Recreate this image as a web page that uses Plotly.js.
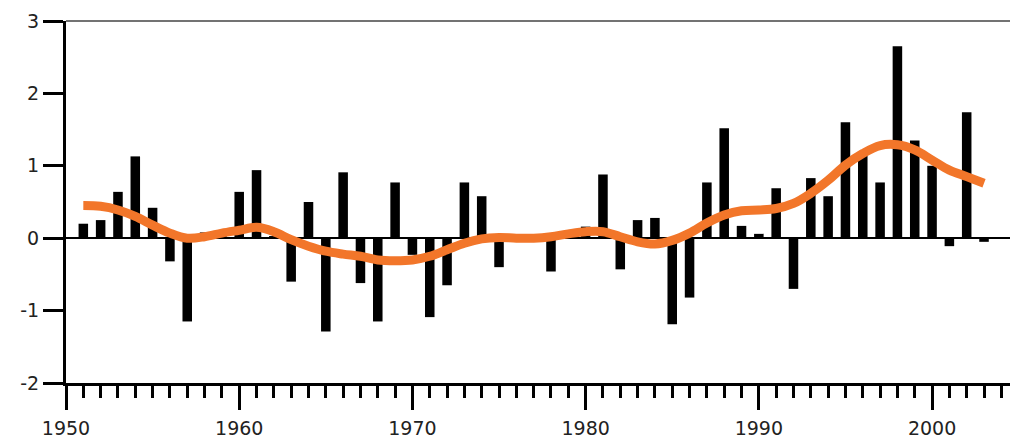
<!DOCTYPE html>
<html>
<head>
<meta charset="utf-8">
<script src="https://cdn.plot.ly/plotly-3.0.1.min.js"></script>
<style>
  html, body { margin: 0; padding: 0; background: #fff; }
  #chart { width: 1010px; height: 441px; }
</style>
</head>
<body>
<div id="chart"></div>
<script>
const years = [1951,1952,1953,1954,1955,1956,1957,1958,1959,1960,
               1961,1962,1963,1964,1965,1966,1967,1968,1969,1970,
               1971,1972,1973,1974,1975,1976,1977,1978,1979,1980,
               1981,1982,1983,1984,1985,1986,1987,1988,1989,1990,
               1991,1992,1993,1994,1995,1996,1997,1998,1999,2000,
               2001,2002,2003];

const anomaly = [0.20,0.25,0.64,1.13,0.42,-0.32,-1.15,0.08,0.03,0.64,
                 0.94,0.03,-0.60,0.50,-1.29,0.91,-0.62,-1.15,0.77,-0.23,
                 -1.09,-0.65,0.77,0.58,-0.40,0.02,0.03,-0.46,0.05,0.16,
                 0.88,-0.43,0.25,0.28,-1.19,-0.82,0.77,1.52,0.17,0.06,
                 0.69,-0.70,0.83,0.58,1.60,1.15,0.77,2.65,1.35,1.00,
                 -0.11,1.74,-0.05];

const smooth = [0.45,0.44,0.39,0.30,0.18,0.07,0.00,0.02,0.07,0.11,
                0.15,0.09,-0.02,-0.11,-0.18,-0.22,-0.25,-0.30,-0.31,-0.30,
                -0.25,-0.16,-0.07,-0.01,0.01,0.00,0.00,0.02,0.06,0.09,
                0.09,0.02,-0.05,-0.08,-0.03,0.07,0.21,0.32,0.38,0.39,
                0.41,0.48,0.62,0.80,1.01,1.17,1.28,1.29,1.22,1.08,
                0.94,0.85,0.76];

const xTickVals = [1950,1960,1970,1980,1990,2000];
const xTickText = ['1950','1960','1970','1980','1990','2000'];
const yTickVals = [-2,-1,0,1,2,3];
const yTickText = ['-2','-1','0','1','2','3'];

const fontSpec = {family: 'DejaVu Sans, Arial, sans-serif', size: 19, color: '#222'};

const traces = [
  {
    type: 'bar', x: years, y: anomaly, width: 0.55,
    marker: {color: '#000', line: {width: 0}},
    hoverinfo: 'x+y', showlegend: false
  },
  {
    type: 'scatter', mode: 'lines', x: years, y: smooth,
    line: {color: '#F2762A', width: 9, shape: 'spline', smoothing: 1},
    showlegend: false
  }
];

const layout = {
  width: 1010, height: 441,
  margin: {l: 66, r: 0, t: 21, b: 58},
  paper_bgcolor: '#fff', plot_bgcolor: '#fff',
  font: fontSpec,
  xaxis: {
    range: [1950, 2004.5],
    tickmode: 'array', tickvals: xTickVals, ticktext: xTickText,
    ticks: 'outside', ticklen: 24, tickwidth: 3, tickcolor: '#000',
    showline: true, linecolor: '#000', linewidth: 3,
    showgrid: false, zeroline: false,
    ticklabelstandoff: 2,
    tickfont: fontSpec,
    minor: {dtick: 1, tick0: 1950, ticks: 'outside', ticklen: 12, tickwidth: 3, tickcolor: '#000', showgrid: false}
  },
  yaxis: {
    range: [-2, 3],
    tickmode: 'array', tickvals: yTickVals, ticktext: yTickText,
    ticks: 'outside', ticklen: 20, tickwidth: 3, tickcolor: '#000',
    showline: true, linecolor: '#000', linewidth: 3,
    showgrid: false,
    zeroline: true, zerolinecolor: '#000', zerolinewidth: 1.5,
    tickfont: fontSpec
  },
  shapes: [
    {type: 'line', xref: 'paper', yref: 'paper', x0: 0, x1: 1, y0: 1, y1: 1,
     line: {color: '#444', width: 1.5}}
  ]
};

Plotly.newPlot('chart', traces, layout, {displayModeBar: false, staticPlot: true});
</script>
</body>
</html>
